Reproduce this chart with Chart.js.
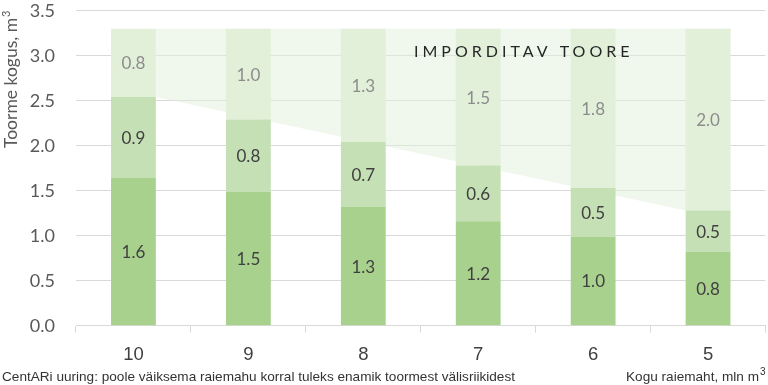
<!DOCTYPE html>
<html>
<head>
<meta charset="utf-8">
<script src="https://cdn.jsdelivr.net/npm/chart.js@4/dist/chart.umd.min.js"></script>
<style>
  html, body { margin: 0; padding: 0; background: #fff; overflow: hidden; }
  #wrap { position: relative; width: 768px; height: 385px; }
</style>
</head>
<body>
<div id="wrap"><canvas id="mycanvas" width="768" height="385"></canvas></div>
<script>
// kogu raiemaht, mln m3
var raiemaht = ['10', '9', '8', '7', '6', '5'];
// toorme kogus segmentide kaupa, m3 (alt üles)
var toorePohi = [1.64, 1.49, 1.32, 1.16, 0.99, 0.82];
var tooreKesk = [0.90, 0.80, 0.72, 0.62, 0.54, 0.46];
var tooreImport = [0.76, 1.01, 1.26, 1.52, 1.77, 2.02];
var yTicks = [0, 0.5, 1, 1.5, 2, 2.5, 3, 3.5];

var labelFont = '"Lato", "Open Sans", sans-serif';
var arialFont = '"Liberation Sans", Arial, sans-serif';

// hele kolmnurk imporditava toorme taga + pealkiri
var importArea = {
  id: 'importArea',
  beforeDatasetsDraw: function(chart) {
    var ctx = chart.ctx;
    var y = chart.scales.y;
    var first = chart.getDatasetMeta(0).data[0];
    var last = chart.getDatasetMeta(0).data[raiemaht.length - 1];
    var n = raiemaht.length - 1;
    var topVal = toorePohi[0] + tooreKesk[0] + tooreImport[0];
    var x0 = first.x + first.width / 2;
    var x1 = last.x - last.width / 2;
    var x2 = last.x + last.width / 2;
    ctx.save();
    ctx.fillStyle = 'rgba(226,240,217,0.5)';
    ctx.beginPath();
    ctx.moveTo(x0, y.getPixelForValue(toorePohi[0] + tooreKesk[0]));
    ctx.lineTo(x0, y.getPixelForValue(topVal));
    ctx.lineTo(x2, y.getPixelForValue(topVal));
    ctx.lineTo(x2, y.getPixelForValue(toorePohi[n] + tooreKesk[n]));
    ctx.lineTo(x1, y.getPixelForValue(toorePohi[n] + tooreKesk[n]));
    ctx.closePath();
    ctx.fill();
    ctx.restore();
  },
  afterDatasetsDraw: function(chart) {
    var ctx = chart.ctx;
    ctx.save();
    // väärtused segmentide keskel
    ctx.font = '17px ' + labelFont;
    ctx.textAlign = 'center';
    ctx.textBaseline = 'middle';
    chart.data.datasets.forEach(function(ds, i) {
      var meta = chart.getDatasetMeta(i);
      ctx.fillStyle = i === 2 ? '#8c8c8c' : '#404040';
      meta.data.forEach(function(bar, j) {
        ctx.fillText(ds.data[j].toFixed(1), bar.x, (bar.y + bar.base) / 2 + 1);
      });
    });
    ctx.font = '16px ' + labelFont;
    ctx.letterSpacing = '4px';
    ctx.textAlign = 'left';
    ctx.fillStyle = '#262626';
    ctx.fillText('IMPORDITAV TOORE', 414, 52);
    ctx.restore();
  },
  afterDraw: function(chart) {
    var ctx = chart.ctx;
    ctx.save();
    // y-telje pealkiri
    ctx.translate(17, 148);
    ctx.rotate(-Math.PI / 2);
    ctx.font = '17.5px ' + labelFont;
    ctx.fillStyle = '#595959';
    ctx.textAlign = 'left';
    ctx.textBaseline = 'alphabetic';
    ctx.fillText('Toorme kogus, m', 0, 0);
    var w = ctx.measureText('Toorme kogus, m').width;
    ctx.font = '11px ' + labelFont;
    ctx.fillText('3', w + 1, -7);
    ctx.restore();

    ctx.save();
    ctx.font = '13.6px ' + arialFont;
    ctx.fillStyle = '#333333';
    ctx.textBaseline = 'alphabetic';
    ctx.textAlign = 'left';
    ctx.fillText('CentARi uuring: poole väiksema raiemahu korral tuleks enamik toormest välisriikidest', 2, 381);
    ctx.textAlign = 'right';
    ctx.fillText('Kogu raiemaht, mln m', 759, 381);
    ctx.font = '10px ' + arialFont;
    ctx.textAlign = 'left';
    ctx.fillText('3', 760, 375);
    ctx.restore();
  }
};

var ctx = document.getElementById('mycanvas');

var barGraph = new Chart(ctx, {
  type: 'bar',
  data: {
    labels: raiemaht,
    datasets: [
      { label: 'Põhi', data: toorePohi, backgroundColor: '#a9d18e' },
      { label: 'Kesk', data: tooreKesk, backgroundColor: '#c5e0b4' },
      { label: 'Import', data: tooreImport, backgroundColor: '#e2f0d9' }
    ]
  },
  options: {
    responsive: false,
    animation: false,
    devicePixelRatio: 1,
    layout: { padding: { top: 10.7, right: 2.5, left: 0, bottom: 0 } },
    datasets: {
      bar: { categoryPercentage: 1, barPercentage: 0.39, borderWidth: 0, stack: 's' }
    },
    plugins: {
      legend: { display: false },
      tooltip: { enabled: false }
    },
    scales: {
      x: {
        stacked: true,
        grid: { display: true, offset: true, drawOnChartArea: false, drawTicks: true, tickLength: 7, color: '#d9d9d9' },
        border: { color: '#d9d9d9' },
        ticks: {
          color: '#404040',
          padding: 11,
          font: { family: arialFont, size: 18.5 }
        },
        afterFit: function(scale) { scale.height = 59.3; }
      },
      y: {
        stacked: true,
        min: 0,
        max: 3.5,
        afterBuildTicks: function(scale) {
          scale.ticks = yTicks.map(function(v) { return { value: v }; });
        },
        grid: { color: '#d9d9d9', drawTicks: false },
        border: { display: false },
        ticks: {
          color: '#595959',
          padding: 21,
          font: { family: labelFont, size: 18 },
          callback: function(v) { return Number(v).toFixed(1); }
        },
        afterFit: function(scale) {
          scale.width = 76;
          scale.paddingTop = 0;
          scale.paddingBottom = 0;
        }
      }
    }
  },
  plugins: [importArea]
});
</script>
</body>
</html>
